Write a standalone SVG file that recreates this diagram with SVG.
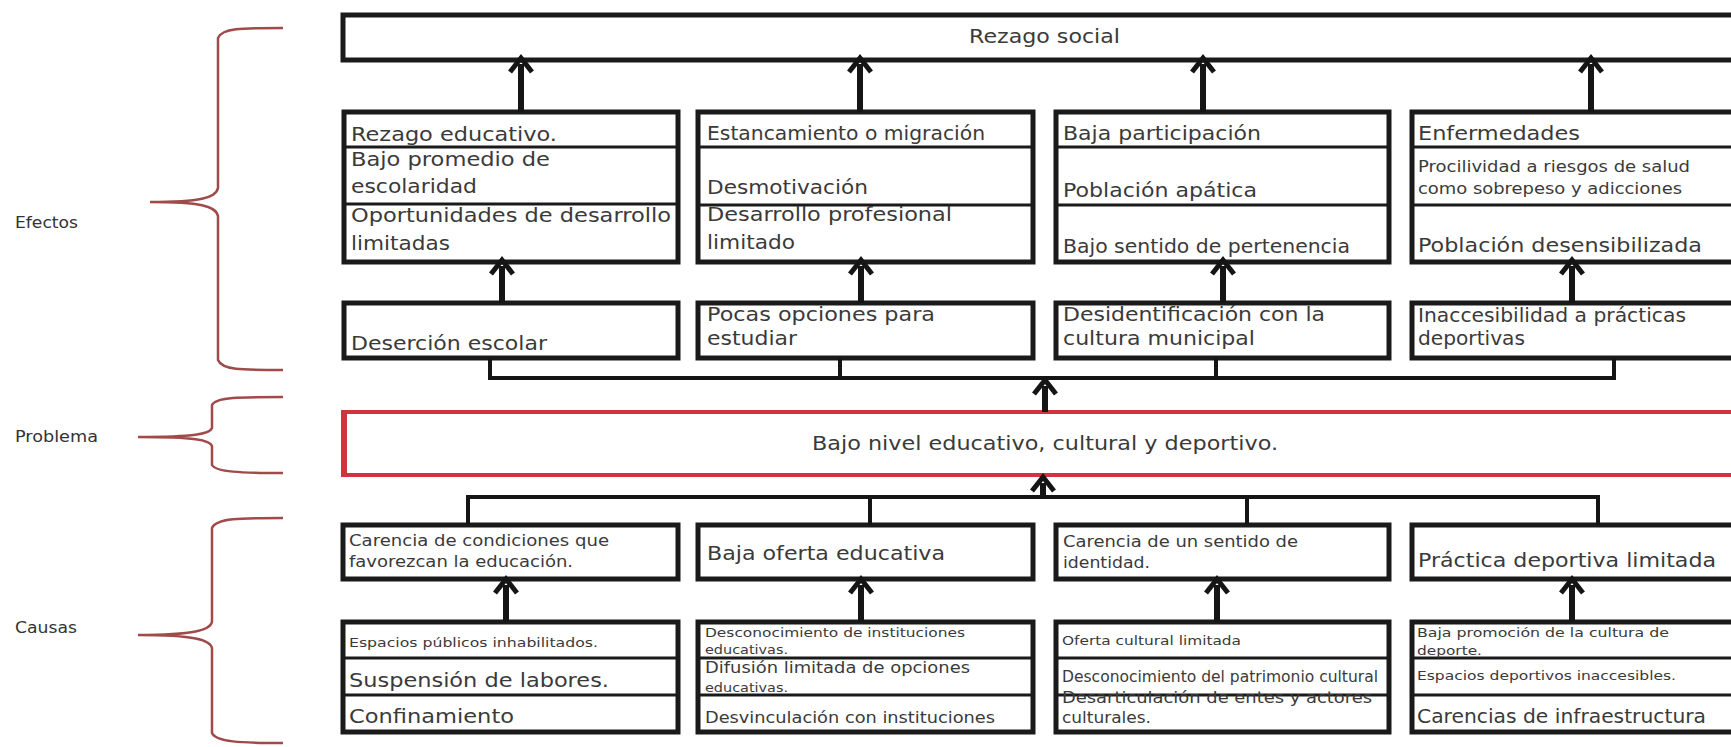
<svg xmlns="http://www.w3.org/2000/svg" width="1731" height="747" viewBox="0 0 1731 747">
<style>
.box{fill:#fff;stroke:#1a1a1a;stroke-width:5}
.red{fill:#fff;stroke:#d2343f;stroke-width:4}
.dv{stroke:#1a1a1a;stroke-width:3}
.t{font-family:"DejaVu Sans","Liberation Sans",sans-serif;fill:#3a3a3a}
.L{font-size:20px}
.M{font-size:16px}
.S{font-size:13px}
.lbl{font-size:15px;font-family:"DejaVu Sans","Liberation Sans",sans-serif;fill:#333}
.br{fill:none;stroke:#a04a4a;stroke-width:2.5}
.con{fill:none;stroke:#151515;stroke-width:4}
.arr{stroke:#151515;stroke-width:6;marker-end:url(#ah)}
</style>
<defs>
<marker id="ah" viewBox="0 0 24 24" markerUnits="userSpaceOnUse" markerWidth="24" markerHeight="24" refX="10" refY="12" orient="auto" overflow="visible">
<path d="M 2 1 L 16 12 L 2 23" fill="none" stroke="#151515" stroke-width="5"/>
</marker>
</defs>
<rect width="1731" height="747" fill="#fff"/>

<g id="labels">
<text class="lbl" x="15" y="228" textLength="63" lengthAdjust="spacingAndGlyphs">Efectos</text>
<text class="lbl" x="15" y="442" textLength="83" lengthAdjust="spacingAndGlyphs">Problema</text>
<text class="lbl" x="15" y="633" textLength="62" lengthAdjust="spacingAndGlyphs">Causas</text>
</g>
<g id="brackets">
<path class="br" d="M 283 28 C 240 28 222 28 218 38 L 218 188 C 216 198 200 202 150 202 C 200 202 216 206 218 216 L 218 360 C 222 370 240 370 283 370"/>
<path class="br" d="M 283 397 C 240 397 216 397 212 405 L 212 428 C 210 434 195 437 138 437 C 195 437 210 440 212 446 L 212 465 C 216 472 240 473 283 473"/>
<path class="br" d="M 283 518 C 240 518 216 518 212 528 L 212 622 C 210 630 195 635 138 635 C 195 635 210 640 212 648 L 212 733 C 216 742 240 743 283 743"/>
</g>

<g id="rezago-social">
<rect class="box" x="343" y="15" width="1410" height="45"/>
<text class="t L" x="969" y="43" textLength="151" lengthAdjust="spacingAndGlyphs">Rezago social</text>
</g>

<g id="efecto1">
<rect class="box" x="344" y="112" width="334" height="150"/>
<line class="dv" x1="344" y1="147" x2="678" y2="147"/>
<line class="dv" x1="344" y1="204" x2="678" y2="204"/>
<text class="t L" x="351" y="141" textLength="206" lengthAdjust="spacingAndGlyphs">Rezago educativo.</text>
<text class="t L" x="351" y="166" textLength="199" lengthAdjust="spacingAndGlyphs">Bajo promedio de</text>
<text class="t L" x="351" y="193" textLength="126" lengthAdjust="spacingAndGlyphs">escolaridad</text>
<text class="t L" x="351" y="222" textLength="320" lengthAdjust="spacingAndGlyphs">Oportunidades de desarrollo</text>
<text class="t L" x="351" y="250" textLength="99" lengthAdjust="spacingAndGlyphs">limitadas</text>
</g>
<g id="efecto2">
<rect class="box" x="698" y="112" width="335" height="150"/>
<line class="dv" x1="698" y1="147" x2="1033" y2="147"/>
<line class="dv" x1="698" y1="205" x2="1033" y2="205"/>
<text class="t L" x="707" y="140" textLength="278" lengthAdjust="spacingAndGlyphs">Estancamiento o migración</text>
<text class="t L" x="707" y="194" textLength="161" lengthAdjust="spacingAndGlyphs">Desmotivación</text>
<text class="t L" x="707" y="221" textLength="245" lengthAdjust="spacingAndGlyphs">Desarrollo profesional</text>
<text class="t L" x="707" y="249" textLength="88" lengthAdjust="spacingAndGlyphs">limitado</text>
</g>
<g id="efecto3">
<rect class="box" x="1056" y="112" width="333" height="150"/>
<line class="dv" x1="1056" y1="147" x2="1389" y2="147"/>
<line class="dv" x1="1056" y1="205" x2="1389" y2="205"/>
<text class="t L" x="1063" y="140" textLength="198" lengthAdjust="spacingAndGlyphs">Baja participación</text>
<text class="t L" x="1063" y="197" textLength="194" lengthAdjust="spacingAndGlyphs">Población apática</text>
<text class="t L" x="1063" y="253" textLength="287" lengthAdjust="spacingAndGlyphs">Bajo sentido de pertenencia</text>
</g>
<g id="efecto4">
<rect class="box" x="1412" y="112" width="340" height="150"/>
<line class="dv" x1="1412" y1="147" x2="1752" y2="147"/>
<line class="dv" x1="1412" y1="205" x2="1752" y2="205"/>
<text class="t L" x="1418" y="140" textLength="162" lengthAdjust="spacingAndGlyphs">Enfermedades</text>
<text class="t M" x="1418" y="172" textLength="272" lengthAdjust="spacingAndGlyphs">Procilividad a riesgos de salud</text>
<text class="t M" x="1418" y="194" textLength="264" lengthAdjust="spacingAndGlyphs">como sobrepeso y adicciones</text>
<text class="t L" x="1418" y="252" textLength="284" lengthAdjust="spacingAndGlyphs">Población desensibilizada</text>
</g>

<g id="efecto-base1">
<rect class="box" x="344" y="303" width="334" height="55"/>
<text class="t L" x="351" y="350" textLength="196" lengthAdjust="spacingAndGlyphs">Deserción escolar</text>
</g>
<g id="efecto-base2">
<rect class="box" x="698" y="303" width="335" height="55"/>
<text class="t L" x="707" y="321" textLength="228" lengthAdjust="spacingAndGlyphs">Pocas opciones para</text>
<text class="t L" x="707" y="345" textLength="90" lengthAdjust="spacingAndGlyphs">estudiar</text>
</g>
<g id="efecto-base3">
<rect class="box" x="1056" y="303" width="333" height="55"/>
<text class="t L" x="1063" y="321" textLength="262" lengthAdjust="spacingAndGlyphs">Desidentificación con la</text>
<text class="t L" x="1063" y="345" textLength="192" lengthAdjust="spacingAndGlyphs">cultura municipal</text>
</g>
<g id="efecto-base4">
<rect class="box" x="1412" y="303" width="340" height="55"/>
<text class="t L" x="1418" y="322" textLength="268" lengthAdjust="spacingAndGlyphs">Inaccesibilidad a prácticas</text>
<text class="t L" x="1418" y="345" textLength="107" lengthAdjust="spacingAndGlyphs">deportivas</text>
</g>

<g id="problema">
<rect class="red" x="344" y="412" width="1410" height="63"/>
<line x1="344" y1="410" x2="344" y2="477" stroke="#d2343f" stroke-width="6"/>
<text class="t L" x="812" y="450" textLength="466" lengthAdjust="spacingAndGlyphs">Bajo nivel educativo, cultural y deportivo.</text>
</g>

<g id="causa1">
<rect class="box" x="343" y="525" width="335" height="54"/>
<text class="t M" x="349" y="546" textLength="260" lengthAdjust="spacingAndGlyphs">Carencia de condiciones que</text>
<text class="t M" x="349" y="567" textLength="224" lengthAdjust="spacingAndGlyphs">favorezcan la educación.</text>
</g>
<g id="causa2">
<rect class="box" x="698" y="525" width="335" height="54"/>
<text class="t L" x="707" y="560" textLength="238" lengthAdjust="spacingAndGlyphs">Baja oferta educativa</text>
</g>
<g id="causa3">
<rect class="box" x="1056" y="525" width="333" height="54"/>
<text class="t M" x="1063" y="547" textLength="235" lengthAdjust="spacingAndGlyphs">Carencia de un sentido de</text>
<text class="t M" x="1063" y="568" textLength="87" lengthAdjust="spacingAndGlyphs">identidad.</text>
</g>
<g id="causa4">
<rect class="box" x="1412" y="525" width="340" height="54"/>
<text class="t L" x="1418" y="567" textLength="298" lengthAdjust="spacingAndGlyphs">Práctica deportiva limitada</text>
</g>

<g id="subcausa1">
<rect class="box" x="343" y="622" width="335" height="110"/>
<line class="dv" x1="343" y1="658" x2="678" y2="658"/>
<line class="dv" x1="343" y1="695" x2="678" y2="695"/>
<text class="t S" x="349" y="647" textLength="249" lengthAdjust="spacingAndGlyphs">Espacios públicos inhabilitados.</text>
<text class="t L" x="349" y="687" textLength="260" lengthAdjust="spacingAndGlyphs">Suspensión de labores.</text>
<text class="t L" x="349" y="723" textLength="165" lengthAdjust="spacingAndGlyphs">Confinamiento</text>
</g>
<g id="subcausa2">
<rect class="box" x="698" y="622" width="335" height="110"/>
<line class="dv" x1="698" y1="658" x2="1033" y2="658"/>
<line class="dv" x1="698" y1="695" x2="1033" y2="695"/>
<text class="t S" x="705" y="637" textLength="260" lengthAdjust="spacingAndGlyphs">Desconocimiento de instituciones</text>
<text class="t S" x="705" y="654" textLength="83" lengthAdjust="spacingAndGlyphs">educativas.</text>
<text class="t M" x="705" y="673" textLength="265" lengthAdjust="spacingAndGlyphs">Difusión limitada de opciones</text>
<text class="t S" x="705" y="692" textLength="83" lengthAdjust="spacingAndGlyphs">educativas.</text>
<text class="t M" x="705" y="723" textLength="290" lengthAdjust="spacingAndGlyphs">Desvinculación con instituciones</text>
</g>
<g id="subcausa3">
<rect class="box" x="1056" y="622" width="333" height="110"/>
<line class="dv" x1="1056" y1="658" x2="1389" y2="658"/>
<line class="dv" x1="1056" y1="695" x2="1389" y2="695"/>
<text class="t S" x="1062" y="645" textLength="179" lengthAdjust="spacingAndGlyphs">Oferta cultural limitada</text>
<text class="t M" x="1062" y="682" textLength="316" lengthAdjust="spacingAndGlyphs">Desconocimiento del patrimonio cultural</text>
<text class="t M" x="1062" y="703" textLength="310" lengthAdjust="spacingAndGlyphs">Desarticulación de entes y actores</text>
<text class="t M" x="1062" y="723" textLength="89" lengthAdjust="spacingAndGlyphs">culturales.</text>
</g>
<g id="subcausa4">
<rect class="box" x="1412" y="622" width="340" height="110"/>
<line class="dv" x1="1412" y1="658" x2="1752" y2="658"/>
<line class="dv" x1="1412" y1="695" x2="1752" y2="695"/>
<text class="t S" x="1417" y="637" textLength="252" lengthAdjust="spacingAndGlyphs">Baja promoción de la cultura de</text>
<text class="t S" x="1417" y="655" textLength="65" lengthAdjust="spacingAndGlyphs">deporte.</text>
<text class="t S" x="1417" y="680" textLength="259" lengthAdjust="spacingAndGlyphs">Espacios deportivos inaccesibles.</text>
<text class="t L" x="1417" y="723" textLength="289" lengthAdjust="spacingAndGlyphs">Carencias de infraestructura</text>
</g>

<g id="connectors">
<line class="arr" x1="521" y1="112" x2="521" y2="64"/>
<line class="arr" x1="860" y1="112" x2="860" y2="64"/>
<line class="arr" x1="1203" y1="112" x2="1203" y2="64"/>
<line class="arr" x1="1591" y1="112" x2="1591" y2="64"/>
<line class="arr" x1="502" y1="303" x2="502" y2="266"/>
<line class="arr" x1="861" y1="303" x2="861" y2="266"/>
<line class="arr" x1="1223" y1="303" x2="1223" y2="266"/>
<line class="arr" x1="1572" y1="303" x2="1572" y2="266"/>
<path class="con" d="M 490 358 V 378 H 1614 V 358 M 840 358 V 378 M 1216 358 V 378"/>
<line class="arr" x1="1045" y1="412" x2="1045" y2="386"/>
<path class="con" d="M 468 525 V 497 H 1598 V 525 M 870 497 V 525 M 1247 497 V 525"/>
<line class="arr" x1="1043" y1="497" x2="1043" y2="483"/>
<line class="arr" x1="506" y1="622" x2="506" y2="585"/>
<line class="arr" x1="861" y1="622" x2="861" y2="585"/>
<line class="arr" x1="1217" y1="622" x2="1217" y2="585"/>
<line class="arr" x1="1572" y1="622" x2="1572" y2="585"/>
</g>
</svg>
